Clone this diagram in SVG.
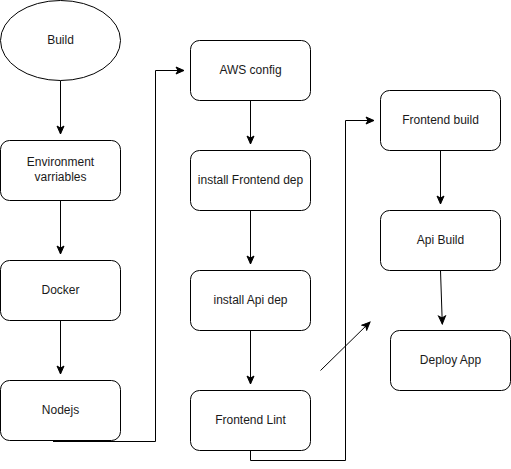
<svg xmlns="http://www.w3.org/2000/svg" width="511" height="469" viewBox="0 0 511 469">
<style>
.n{fill:#fff;stroke:#000;stroke-width:1}
.t{font-family:"Liberation Sans",Arial,sans-serif;font-size:12px;fill:#1a1a1a;text-anchor:middle}
.c{fill:none;stroke:#000;stroke-width:1}
</style>
<defs>
<marker id="a" markerUnits="userSpaceOnUse" markerWidth="10" markerHeight="10" viewBox="0 0 10 10" refX="9" refY="5" orient="auto">
<path d="M1,1.5 L9,5 L1,8.5 L3,5 Z" fill="#000" stroke="#000" stroke-width="1"/>
</marker>
</defs>
<rect width="511" height="469" fill="#fff"/>
<g id="connectors">
<path class="c" d="M60.5 80.5 V134" marker-end="url(#a)"/>
<path class="c" d="M60.5 200.5 V254" marker-end="url(#a)"/>
<path class="c" d="M60.5 320.5 V374" marker-end="url(#a)"/>
<path class="c" d="M53 441.5 H155.5 V70.5 H184" marker-end="url(#a)"/>
<path class="c" d="M250.5 100.5 V144" marker-end="url(#a)"/>
<path class="c" d="M250.5 210.5 V264" marker-end="url(#a)"/>
<path class="c" d="M250.5 330.5 V384" marker-end="url(#a)"/>
<path class="c" d="M250.5 450.5 V460.5 H345.5 V120.5 H374" marker-end="url(#a)"/>
<path class="c" d="M440.5 150.5 V204" marker-end="url(#a)"/>
<path class="c" d="M440.5 270.5 L442.3 324" marker-end="url(#a)"/>
<path class="c" d="M320.5 370.5 L370 322" marker-end="url(#a)"/>
</g>
<g id="build"><ellipse class="n" cx="60.5" cy="40.5" rx="60" ry="40"/><text class="t" x="60.5" y="44">Build</text></g>
<g id="env"><rect class="n" x="0.5" y="140.5" width="120" height="60" rx="9"/><text class="t" x="60.5" y="166">Environment</text><text class="t" x="60.5" y="181">varriables</text></g>
<g id="docker"><rect class="n" x="0.5" y="260.5" width="120" height="60" rx="9"/><text class="t" x="60.5" y="294">Docker</text></g>
<g id="nodejs"><rect class="n" x="0.5" y="380.5" width="120" height="60" rx="9"/><text class="t" x="60.5" y="414">Nodejs</text></g>
<g id="aws"><rect class="n" x="190.5" y="40.5" width="120" height="60" rx="9"/><text class="t" x="250.5" y="74">AWS config</text></g>
<g id="fedep"><rect class="n" x="190.5" y="150.5" width="120" height="60" rx="9"/><text class="t" x="250.5" y="184">install Frontend dep</text></g>
<g id="apidep"><rect class="n" x="190.5" y="270.5" width="120" height="60" rx="9"/><text class="t" x="250.5" y="304">install Api dep</text></g>
<g id="lint"><rect class="n" x="190.5" y="390.5" width="120" height="60" rx="9"/><text class="t" x="250.5" y="424">Frontend Lint</text></g>
<g id="febuild"><rect class="n" x="380.5" y="90.5" width="120" height="60" rx="9"/><text class="t" x="440.5" y="124">Frontend build</text></g>
<g id="apibuild"><rect class="n" x="380.5" y="210.5" width="120" height="60" rx="9"/><text class="t" x="440.5" y="244">Api Build</text></g>
<g id="deploy"><rect class="n" x="390.5" y="330.5" width="120" height="60" rx="9"/><text class="t" x="450.5" y="364">Deploy App</text></g>
</svg>
